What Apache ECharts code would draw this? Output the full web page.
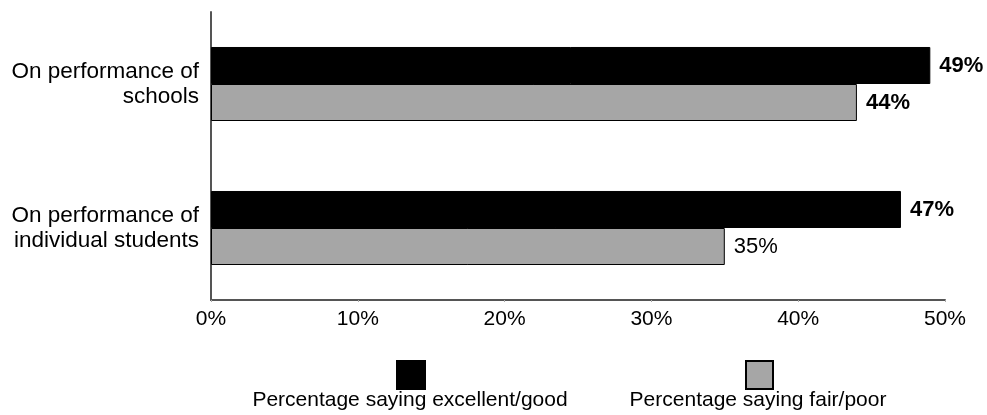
<!DOCTYPE html>
<html>
<head>
<meta charset="utf-8">
<script src="https://cdn.jsdelivr.net/npm/echarts@6/dist/echarts.min.js"></script>
<style>
html,body{margin:0;padding:0;background:#fff;}
#chart{width:987px;height:415px;}
</style>
</head>
<body>
<div id="chart"></div>
<script>
const categories = ['On performance of\nschools', 'On performance of\nindividual students'];
const seriesNames = ['Percentage saying excellent/good', 'Percentage saying fair/poor'];
const excellentGood = [49, 47];
const fairPoor = [44, 35];
const boldLabels = [[true, true], [true, false]];
const xTicks = [0, 10, 20, 30, 40, 50];

const FONT = '"Liberation Sans", Arial, sans-serif';
const chart = echarts.init(document.getElementById('chart'));

function mkData(values, si) {
  return values.map((v, i) => ({
    value: v,
    label: { fontWeight: boldLabels[si][i] ? 'bold' : 'normal' }
  }));
}

chart.setOption({
  animation: false,
  backgroundColor: '#fff',
  textStyle: { fontFamily: FONT },
  grid: { left: 211, right: 42, top: 12, bottom: 115, containLabel: false },
  xAxis: {
    type: 'value',
    min: xTicks[0],
    max: xTicks[xTicks.length - 1],
    interval: 10,
    axisLine: { show: true, lineStyle: { color: '#555', width: 2 } },
    axisTick: { show: true, inside: false, length: 2, lineStyle: { color: '#aaa' } },
    splitLine: { show: false },
    axisLabel: {
      formatter: v => v + '%',
      color: '#000', fontSize: 21, fontFamily: FONT, margin: 9
    }
  },
  yAxis: {
    type: 'category',
    data: categories,
    inverse: true,
    axisLine: { show: true, lineStyle: { color: '#555', width: 2 } },
    axisTick: { show: false },
    axisLabel: {
      color: '#000', fontSize: 22.5, lineHeight: 25, fontFamily: FONT, margin: 12, align: 'right'
    }
  },
  legend: [
    {
      data: [seriesNames[0]], left: 396, top: 360, padding: 0,
      itemWidth: 28, itemHeight: 28, icon: 'rect', formatter: () => '',
      textStyle: { fontSize: 1 }
    },
    {
      data: [seriesNames[1]], left: 745, top: 360, padding: 0,
      itemWidth: 27, itemHeight: 28, icon: 'rect', formatter: () => '',
      textStyle: { fontSize: 1 }
    }
  ],
  graphic: [
    { type: 'text', x: 410, y: 400,
      style: { text: seriesNames[0], fontSize: 21, fontFamily: FONT, fill: '#000', align: 'center', verticalAlign: 'middle' } },
    { type: 'text', x: 758, y: 400,
      style: { text: seriesNames[1], fontSize: 21, fontFamily: FONT, fill: '#000', align: 'center', verticalAlign: 'middle' } }
  ],
  series: [
    {
      name: seriesNames[0], type: 'bar', data: mkData(excellentGood, 0),
      barGap: '0%', barCategoryGap: '48.6%',
      itemStyle: { color: '#000', borderColor: '#000', borderWidth: 1 },
      label: { show: true, position: 'right', distance: 9, formatter: '{c}%', color: '#000', fontSize: 22, fontFamily: FONT }
    },
    {
      name: seriesNames[1], type: 'bar', data: mkData(fairPoor, 1),
      barGap: '0%', barCategoryGap: '48.6%',
      itemStyle: { color: '#a6a6a6', borderColor: '#000', borderWidth: 1 },
      label: { show: true, position: 'right', distance: 9, formatter: '{c}%', color: '#000', fontSize: 22, fontFamily: FONT }
    }
  ]
});
</script>
</body>
</html>
